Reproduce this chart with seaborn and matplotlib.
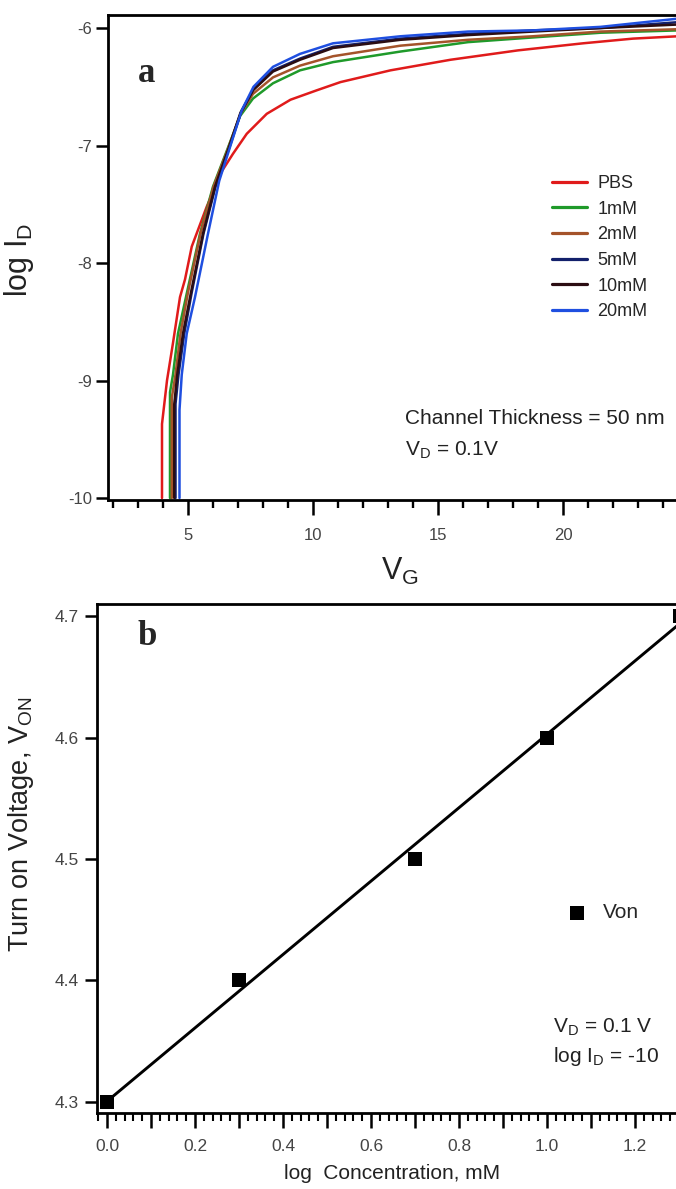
import numpy as np
import pandas as pd
import seaborn as sns

import matplotlib
matplotlib.use('Agg')

import matplotlib.pyplot as plt
from matplotlib.ticker import MultipleLocator, FuncFormatter

# ---- panel a: transfer curves ----
samples = ["PBS", "1mM", "2mM", "5mM", "10mM", "20mM"]
colors = ["#e01b1b", "#1f9a2a", "#a4532a", "#13206b", "#2b0d12", "#1f4fe0"]

vg_pbs = [3.96, 3.96, 4.16, 4.4, 4.68, 4.88, 5.15, 5.75, 6.35, 6.8, 7.35, 8.15, 9.1, 10.15, 11.1, 13.1, 15.5, 18.2, 20.8, 22.8, 24.6]
id_pbs = [-10, -9.37, -9.0, -8.68, -8.29, -8.14, -7.86, -7.52, -7.22, -7.07, -6.9, -6.73, -6.61, -6.53, -6.46, -6.36, -6.27, -6.19, -6.13, -6.09, -6.07]

vg_1mm = [4.28, 4.28, 4.4, 4.6, 4.96, 5.48, 6.0, 6.56, 7.08, 7.6, 8.4, 9.48, 10.8, 13.5, 16.2, 18.8, 21.5, 24.6]
id_1mm = [-10, -9.1, -8.95, -8.6, -8.25, -7.75, -7.35, -7.04, -6.75, -6.6, -6.47, -6.36, -6.29, -6.2, -6.12, -6.08, -6.04, -6.02]

vg_2mm = [4.35, 4.35, 4.5, 4.7, 5.0, 5.5, 6.02, 6.58, 7.1, 7.6, 8.4, 9.48, 10.8, 13.5, 16.2, 18.8, 21.5, 24.6]
id_2mm = [-10, -9.15, -8.95, -8.6, -8.25, -7.75, -7.35, -7.04, -6.73, -6.56, -6.42, -6.32, -6.24, -6.15, -6.1, -6.07, -6.03, -6.01]

vg_5mm = [4.5, 4.5, 4.62, 4.85, 5.15, 5.62, 6.1, 6.62, 7.12, 7.62, 8.4, 9.48, 10.8, 13.5, 16.2, 18.8, 21.5, 24.6]
id_5mm = [-10, -9.2, -8.95, -8.6, -8.25, -7.75, -7.35, -7.04, -6.72, -6.52, -6.36, -6.26, -6.16, -6.09, -6.05, -6.02, -6.0, -5.95]

vg_10mm = [4.45, 4.45, 4.57, 4.8, 5.12, 5.6, 6.08, 6.6, 7.1, 7.6, 8.4, 9.48, 10.8, 13.5, 16.2, 18.8, 21.5, 24.6]
id_10mm = [-10, -9.2, -8.95, -8.6, -8.25, -7.75, -7.35, -7.04, -6.72, -6.53, -6.37, -6.27, -6.17, -6.1, -6.06, -6.03, -6.0, -5.97]

vg_20mm = [4.66, 4.66, 4.75, 4.95, 5.28, 5.8, 6.25, 6.7, 7.15, 7.62, 8.4, 9.48, 10.8, 13.5, 16.2, 18.8, 21.5, 24.6]
id_20mm = [-10, -9.25, -8.95, -8.6, -8.29, -7.75, -7.3, -7.0, -6.7, -6.5, -6.33, -6.22, -6.13, -6.07, -6.03, -6.02, -5.99, -5.92]

# ---- panel b: turn-on voltage ----
log_conc = [0.0, 0.301, 0.699, 1.0, 1.301]
von = [4.3, 4.4, 4.5, 4.6, 4.7]

# build long table for seaborn
curves = [(vg_pbs, id_pbs), (vg_1mm, id_1mm), (vg_2mm, id_2mm),
          (vg_5mm, id_5mm), (vg_10mm, id_10mm), (vg_20mm, id_20mm)]
frames = []
for name, (vg, idd) in zip(samples, curves):
    frames.append(pd.DataFrame({"VG": vg, "logID": idd, "sample": name}))
df = pd.concat(frames, ignore_index=True)

sns.set_theme(style="ticks")
plt.rcParams['font.family'] = ['Liberation Sans', 'DejaVu Sans']
plt.rcParams['mathtext.default'] = 'regular'

W, H = 676, 1189
fig = plt.figure(figsize=(W / 100, H / 100), dpi=100)

def fx(px):
    return px / W

def fy(py):
    return 1 - py / H

tick_gray = "#444444"
text_col = "#222222"

# ---------------- panel a ----------------
ax1 = fig.add_axes([fx(108), fy(500), 1 - fx(108), fy(15) - fy(500)])
sns.lineplot(data=df, x="VG", y="logID", hue="sample", hue_order=samples,
             palette=colors, sort=False, estimator=None, units="sample",
             linewidth=1.8, ax=ax1, legend=False)
ax1.set_xlim(1.8, 24.52)
ax1.set_ylim(-10.017, -5.889)
ax1.set_yticks([-10, -9, -8, -7, -6])
ax1.set_yticklabels(["-10", "-9", "-8", "-7", "-6"])
ax1.set_xticks([5, 10, 15, 20])
ax1.xaxis.set_minor_locator(MultipleLocator(1))
for s in ["top", "left", "bottom"]:
    ax1.spines[s].set_linewidth(2.0)
    ax1.spines[s].set_color("black")
ax1.spines["right"].set_visible(False)
ax1.tick_params(axis="both", which="major", direction="out", width=1.8,
                labelsize=12, labelcolor=tick_gray, color="black")
ax1.tick_params(axis="x", which="major", length=11, pad=9)
ax1.tick_params(axis="y", which="major", length=8.5, pad=3)
ax1.tick_params(axis="x", which="minor", direction="out", length=5.5, width=1.7, color="black")
ax1.set_xlabel("V$_G$", fontsize=22, color=text_col)
ax1.set_ylabel("log I$_D$", fontsize=22, color=text_col)
ax1.xaxis.set_label_coords((400 - 108) / (W - 108), (500 - 556) / 485)
ax1.xaxis.label.set_va("top")
ax1.yaxis.set_label_coords((36 - 108) / (W - 108), (500 - 260) / 485)

handles = [plt.Line2D([], [], color=c, lw=2.3) for c in colors]
ax1.legend(handles, samples, loc="upper left", bbox_to_anchor=(fx(552), fy(175)),
           bbox_transform=fig.transFigure, frameon=False, fontsize=13,
           handlelength=1.95, handletextpad=0.55, labelspacing=0.48,
           borderpad=0, borderaxespad=0)

fig.text(fx(405), fy(418), "Channel Thickness = 50 nm", fontsize=15, va="center", ha="left", color=text_col)
fig.text(fx(405), fy(450), "V$_D$ = 0.1V", fontsize=15, va="center", ha="left", color=text_col)
fig.text(fx(138), fy(82), "a", fontsize=25, fontweight="bold", family="Liberation Serif", va="baseline")

# ---------------- panel b ----------------
ax2 = fig.add_axes([fx(97), fy(1113), 1 - fx(97), fy(604) - fy(1113)])
sns.regplot(x=log_conc, y=von, ci=None, marker="s", color="black", ax=ax2,
            scatter_kws={"s": 105, "zorder": 3, "linewidths": 0, "alpha": 1},
            line_kws={"lw": 2.1, "zorder": 2})
ax2.set_xlim(-0.0227, 1.293)
ax2.set_ylim(4.2909, 4.7099)
ax2.set_yticks([4.3, 4.4, 4.5, 4.6, 4.7])
ax2.set_yticklabels(["4.3", "4.4", "4.5", "4.6", "4.7"])
ax2.xaxis.set_major_locator(MultipleLocator(0.1))
ax2.xaxis.set_minor_locator(MultipleLocator(0.02))
ax2.xaxis.set_major_formatter(
    FuncFormatter(lambda v, p: f"{v:.1f}" if abs(round(v / 0.2) * 0.2 - v) < 1e-6 else ""))
for s in ["top", "left", "bottom"]:
    ax2.spines[s].set_linewidth(2.0)
    ax2.spines[s].set_color("black")
ax2.spines["right"].set_visible(False)
ax2.tick_params(axis="both", which="major", direction="out", width=1.8,
                labelsize=12.5, labelcolor=tick_gray, color="black")
ax2.tick_params(axis="x", which="major", length=11, pad=8)
ax2.tick_params(axis="y", which="major", length=9, pad=4)
ax2.tick_params(axis="x", which="minor", direction="out", length=6, width=1.5, color="black")
ax2.set_xlabel("log  Concentration, mM", fontsize=15, color=text_col)
ax2.set_ylabel("Turn on Voltage, V$_{ON}$", fontsize=19.5, color=text_col)
ax2.xaxis.set_label_coords((392 - 97) / (W - 97), (1113 - 1164) / 509)
ax2.xaxis.label.set_va("top")
ax2.yaxis.set_label_coords((36 - 97) / (W - 97), (1113 - 824) / 509)

ax2.legend([ax2.collections[0]], ["Von"], loc="center left",
           bbox_to_anchor=(fx(567), fy(913)), bbox_transform=fig.transFigure,
           frameon=False, fontsize=15, handlelength=1.0, handletextpad=0.7,
           borderpad=0, borderaxespad=0, scatterpoints=1)

fig.text(fx(603), fy(1027), "V$_D$ = 0.1 V", fontsize=15, va="center", ha="center", color=text_col)
fig.text(fx(606), fy(1057), "log I$_D$ = -10", fontsize=15, va="center", ha="center", color=text_col)
fig.text(fx(138), fy(645), "b", fontsize=25, fontweight="bold", family="Liberation Serif", va="baseline")

fig.savefig("out.png", dpi=100)
plt.close(fig)
